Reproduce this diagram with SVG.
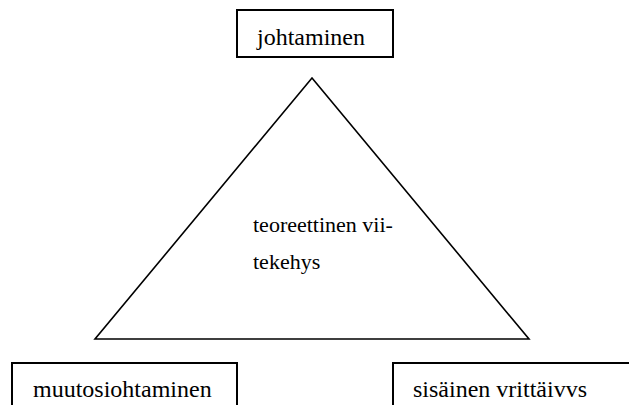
<svg xmlns="http://www.w3.org/2000/svg" width="629" height="405" viewBox="0 0 629 405">
<style>
.box{fill:#fff;stroke:#000;stroke-width:2}
.tri{fill:none;stroke:#000;stroke-width:1.6;stroke-linejoin:miter}
.t{font-family:"Liberation Serif","Times New Roman",serif;font-size:24px;fill:#000}
.m{font-size:22px}
</style>
<rect width="629" height="405" fill="#fff"/>
<g id="connectors">
<polygon class="tri" points="312,78 95,339 529,339"/>
</g>
<g id="node-johtaminen">
<rect class="box" x="237" y="10" width="156" height="47"/>
<text class="t" x="257" y="45">johtaminen</text>
</g>
<g id="node-teoreettinen">
<text class="t m" x="253" y="232">teoreettinen vii-</text>
<text class="t m" x="253" y="269">tekehys</text>
</g>
<g id="node-muutosiohtaminen">
<rect class="box" x="12" y="363" width="225" height="60"/>
<text class="t" x="33" y="397">muutosiohtaminen</text>
</g>
<g id="node-sisainen">
<rect class="box" x="393" y="363" width="260" height="60"/>
<text class="t" x="413" y="397">sisäinen vrittäivvs</text>
</g>
</svg>
